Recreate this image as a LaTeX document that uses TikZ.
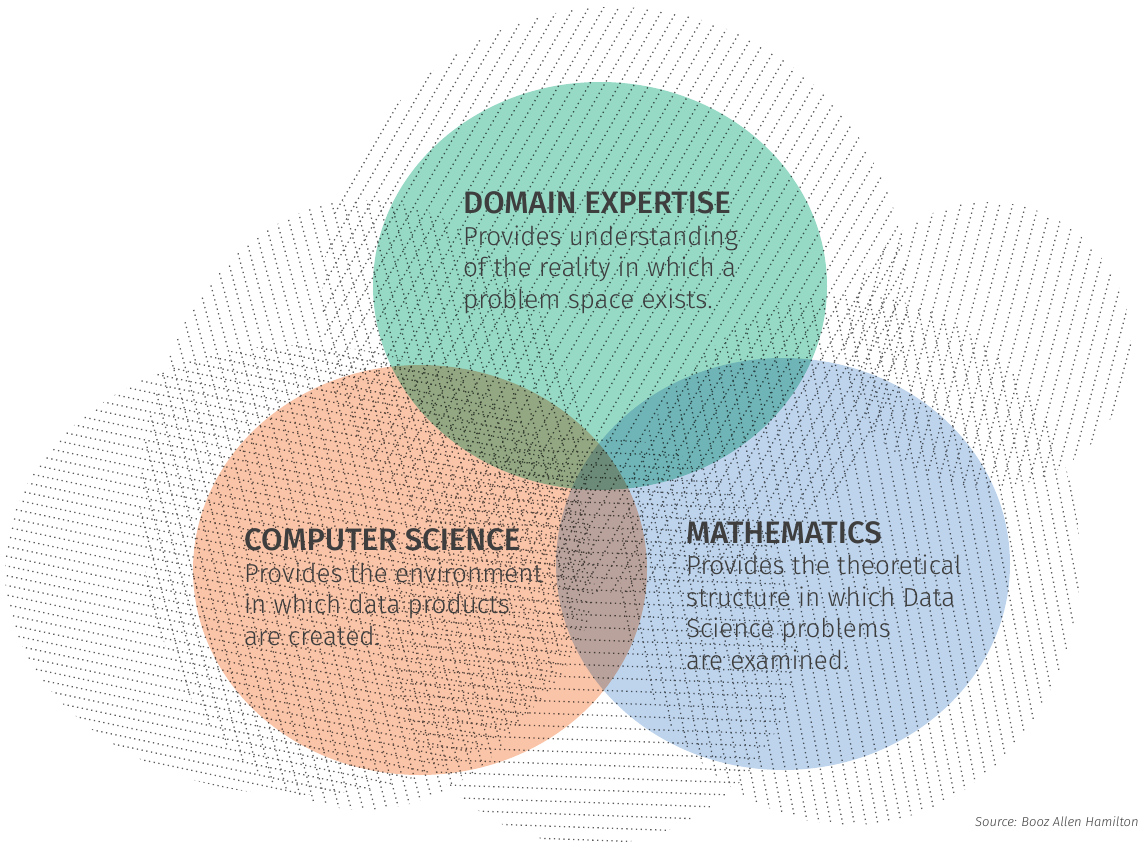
\documentclass[tikz,border=0pt]{standalone}
\usepackage{fontspec}
\setmainfont{Fira Sans}[UprightFont=* Light, BoldFont=* Medium, ItalicFont=* Light Italic]
\definecolor{cgreen}{RGB}{150,218,198}
\definecolor{corange}{RGB}{249,196,168}
\definecolor{cblue}{RGB}{190,212,236}
\definecolor{dotc}{RGB}{92,92,92}
\definecolor{txt}{RGB}{62,62,62}
\tikzset{
  dotline/.style={draw=dotc, line width=1.3pt, line cap=butt, dash pattern=on 1.3pt off 3.5pt},
  txtnode/.style={anchor=base west, align=left, inner sep=0pt, text=txt, font=\fontsize{26}{31.5}\selectfont},
}
\newcommand\dotblob[6]{%
  \begin{scope}
    \clip (#1,#2) ellipse [x radius=#3, y radius=#4];
    \foreach \k in {-40,...,40}
      \draw[dotline, shift={(#1,#2)}, rotate=#5] (-420,\k*#6) -- (420,\k*#6);
  \end{scope}}
\newcommand\headfont{\fontsize{31}{31.5}\selectfont\bfseries}
\begin{document}
\begin{tikzpicture}[x=1pt, y=-1pt]
\useasboundingbox (0,0) rectangle (1146,848);
% hatched background blobs
\dotblob{615}{300}{293}{293}{60}{13}
\dotblob{365}{505}{225}{305}{-75}{11.5}
\dotblob{300}{570}{295}{225}{-12}{9.5}
\dotblob{988}{345}{143}{143}{75}{12.5}
\dotblob{592}{640}{205}{205}{-2}{12.5}
\dotblob{850}{560}{230}{265}{-79}{11.5}
% coloured circles
\begin{scope}[blend mode=multiply]
  \fill[cgreen] (600,286) ellipse [x radius=227, y radius=204];
  \fill[corange] (420,570) ellipse [x radius=227, y radius=205];
  \fill[cblue] (783,564) ellipse [x radius=227, y radius=206];
\end{scope}
% texts (anchored at the baseline of the last line)
\node[txtnode] (dom) at (463,308) {{\headfont DOMAIN EXPERTISE}\\Provides understanding\\of the reality in which a\\problem space exists.};
\node[txtnode] (cs) at (244,645) {{\headfont COMPUTER SCIENCE}\\Provides the environment\\in which data products\\are created.};
\node[txtnode] (math) at (686,669) {{\headfont MATHEMATICS}\\Provides the theoretical\\structure in which Data\\Science problems\\are examined.};
\node[anchor=base west, inner sep=0pt, text=txt, font=\fontsize{13}{15}\selectfont\itshape] (src) at (975,826) {Source: Booz Allen Hamilton};
\end{tikzpicture}
\end{document}
